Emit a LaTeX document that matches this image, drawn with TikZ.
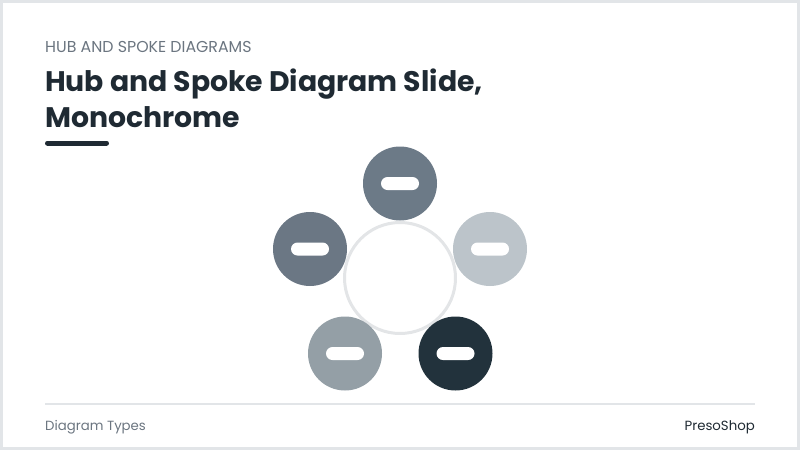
\documentclass[tikz,border=0pt]{standalone}
\usepackage{fontspec}
\setmainfont{Poppins}
\usepackage{tikz}

\definecolor{framegray}{HTML}{E2E5E8}
\definecolor{inkdark}{HTML}{1F2A33}
\definecolor{inkgray}{HTML}{6B7580}
\definecolor{hubline}{HTML}{E3E5E7}
\definecolor{spokeA}{HTML}{6C7A87}
\definecolor{spokeB}{HTML}{6B7784}
\definecolor{spokeC}{HTML}{BCC4CA}
\definecolor{spokeD}{HTML}{949FA6}
\definecolor{spokeE}{HTML}{22323C}

\begin{document}
\begin{tikzpicture}[x=1pt,y=-1pt,
    spoke/.style={shape=circle,minimum size=74pt,inner sep=0pt},
    pill/.style={fill=white,rounded corners=6.5pt,minimum width=38pt,minimum height=13pt,inner sep=0pt}]
	\useasboundingbox (0,0) rectangle (800,450);
	\draw[framegray,line width=3pt] (1.5,1.5) rectangle (798.5,448.5);

	% header
	\path (45,52) node[anchor=base west,inner sep=0pt,text=inkgray,font=\fontsize{15.8}{18}\selectfont] (kicker) {HUB AND SPOKE DIAGRAMS}
		(45,127) node[anchor=base west,inner sep=0pt,text=inkdark,align=left,font=\fontsize{28.3}{36}\selectfont\bfseries] (title) {Hub and Spoke Diagram Slide,\\Monochrome};
	\draw[inkdark,line width=5pt,line cap=round] (47.5,143) -- (106.5,143);

	% hub and spokes
	\path (400,278) node[spoke,draw=hubline,line width=3pt,minimum size=111pt,fill=white] (hub) {}
		(400,183.5) node[spoke,fill=spokeA] (s1) {}
		(310,249) node[spoke,fill=spokeB] (s2) {}
		(490,249) node[spoke,fill=spokeC] (s3) {}
		(345,353.5) node[spoke,fill=spokeD] (s4) {}
		(455.5,353.5) node[spoke,fill=spokeE] (s5) {};
	\foreach \s in {s1,s2,s3,s4,s5}
		\node[pill] (\s-pill) at (\s) {};

	% footer
	\draw[framegray,line width=2pt] (45,404) -- (755,404);
	\path (45,430) node[anchor=base west,inner sep=0pt,text=inkgray,font=\fontsize{13.3}{15}\selectfont] (foot) {Diagram Types}
		(755,430) node[anchor=base east,inner sep=0pt,text=inkdark,font=\fontsize{13.3}{15}\selectfont] (brand) {PresoShop};
\end{tikzpicture}
\end{document}
